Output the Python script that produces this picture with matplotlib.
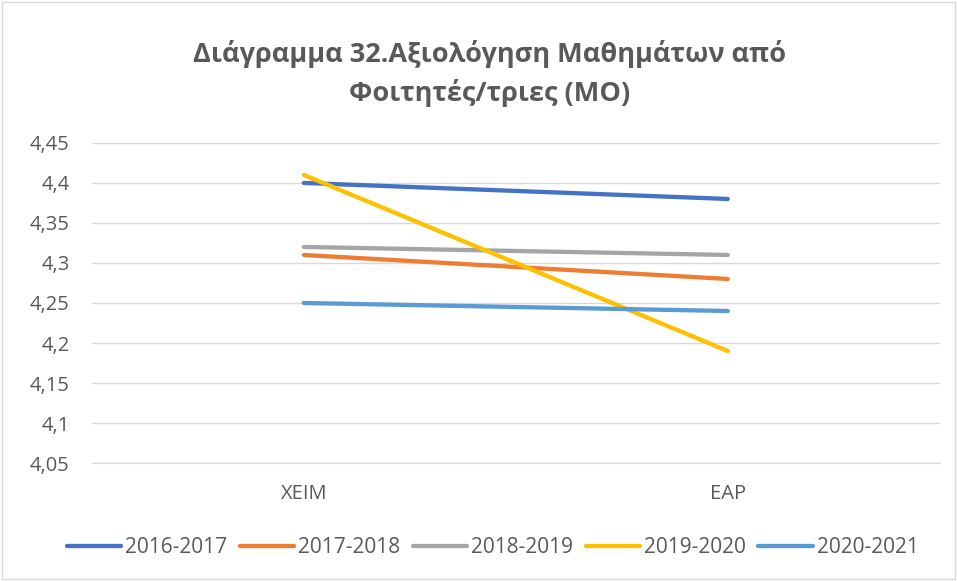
import matplotlib
matplotlib.use("Agg")
import matplotlib.pyplot as plt
from matplotlib.ticker import FuncFormatter
from matplotlib.patches import Rectangle

plt.rcParams['font.family'] = ['Open Sans', 'DejaVu Sans']

categories = ['ΧΕΙΜ', 'ΕΑΡ']
series_names = ['2016-2017', '2017-2018', '2018-2019', '2019-2020', '2020-2021']
s2016 = [4.40, 4.38]
s2017 = [4.31, 4.28]
s2018 = [4.32, 4.31]
s2019 = [4.41, 4.19]
s2020 = [4.25, 4.24]
colors = ['#4472C4', '#ED7D31', '#A5A5A5', '#FFC000', '#5B9BD5']
yticks = [4.05, 4.1, 4.15, 4.2, 4.25, 4.3, 4.35, 4.4, 4.45]

fig = plt.figure(figsize=(9.57, 5.81), dpi=100)
ax = fig.add_axes([0.096, 0.203, 0.886, 0.551])

x = list(range(len(categories)))
for name, vals, c in zip(series_names, [s2016, s2017, s2018, s2019, s2020], colors):
    ax.plot(x, vals, color=c, lw=3.1, label=name, solid_capstyle='round')

ax.set_xlim(-0.5, 1.5)
ax.set_ylim(4.05, 4.45)
ax.set_yticks(yticks)
ax.yaxis.set_major_formatter(FuncFormatter(lambda v, p: ('%g' % round(v, 2)).replace('.', ',')))
ax.set_xticks(x)
ax.set_xticklabels(categories)
ax.grid(axis='y', color='#D9D9D9', lw=1)
ax.set_axisbelow(True)
for s in ['top', 'right', 'left']:
    ax.spines[s].set_visible(False)
ax.spines['bottom'].set_color('#D9D9D9')
ax.tick_params(axis='both', length=0, colors='#595959', labelsize=14.5)
ax.tick_params(axis='y', pad=16)
ax.tick_params(axis='x', pad=15)

fig.text(0.512, 0.873, 'Διάγραμμα 32.Αξιολόγηση Μαθημάτων από\nΦοιτητές/τριες (ΜΟ)',
         ha='center', va='center', fontsize=19.5, fontweight='bold', color='#595959',
         linespacing=1.5)

leg = fig.legend(loc='center', bbox_to_anchor=(0.515, 0.057), ncol=5, frameon=False,
                 fontsize=15, handlelength=2.6, handletextpad=0.2, columnspacing=0.6,
                 labelcolor='#595959')

fig.patches.append(Rectangle((0.002, 0.003), 0.996, 0.994, transform=fig.transFigure,
                             fill=False, edgecolor='#D9D9D9', lw=1))

fig.savefig('out.png', dpi=100, facecolor='white')
